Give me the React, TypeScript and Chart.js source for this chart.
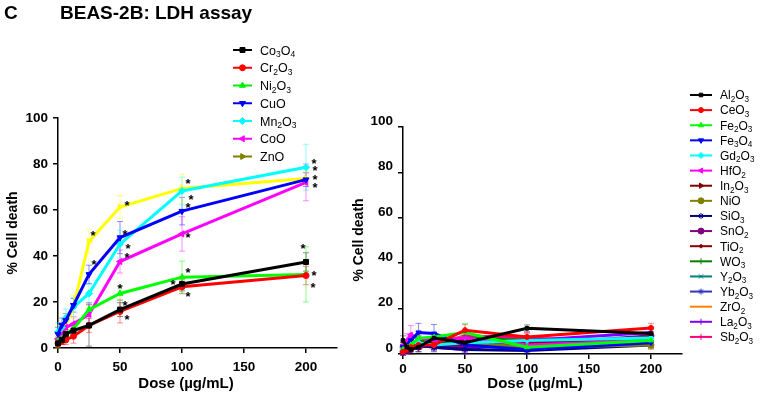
import React, { useEffect, useRef } from 'react';
import { Chart, registerables } from 'chart.js';
import { drawPoint } from 'chart.js/helpers';

Chart.register(...registerables);

const FONT = '"Liberation Sans", Arial, Helvetica, sans-serif';

// ---------------- data ----------------
const panelLabel = 'C';
const chartTitle = 'BEAS-2B: LDH assay';
const yAxisTitle = '% Cell death';
const xAxisTitle = 'Dose (µg/mL)';
const doses = [0, 3.125, 6.25, 12.5, 25, 50, 100, 200];
const xTickValues = [0, 50, 100, 150, 200];
const yTickValues = [0, 20, 40, 60, 80, 100];

// left panel
const leftNames = ['Co3O4', 'Cr2O3', 'Ni2O3', 'CuO', 'Mn2O3', 'CoO', 'ZnO'];
const co3o4 = [2, 3.5, 6, 7.6, 9.8, 16.7, 27.8, 37.4];
const cr2o3 = [2, 3, 3.5, 5.1, 9.8, 15.9, 26.6, 31.5];
const ni2o3 = [3, 4, 6, 8.3, 16.7, 23.7, 30.8, 32];
const cuo = [6, 10, 12, 18.6, 32, 48, 59.5, 73.2];
const mn2o3 = [7, 9, 13, 17.8, 23.7, 45.2, 68.3, 78.6];
const coo = [4, 6, 9, 10.5, 14.6, 37.6, 49.6, 72];
const zno = [5, 8, 10, 17.8, 46.3, 61.3, 69.4, 73.7];

const co3o4Err = [2, 2, 2, 2, 9, 3, 3, 4];
const cr2o3Err = [1.5, 1.5, 2, 3, 3, 5, 3, 4];
const ni2o3Err = [2, 2, 2, 2, 3, 3, 7, 12];
const cuoErr = [3, 3, 3, 3, 4, 7, 6, 3];
const mn2o3Err = [4, 4, 4, 4, 4, 6, 6, 10];
const cooErr = [3, 3, 3, 3, 5, 5, 7.5, 8];
const znoErr = [5, 5, 5, 5, 5, 5, 6, 3];

const co3o4Star = [0, 0, 0, 0, 0, 1, 1, 1];
const cr2o3Star = [0, 0, 0, 0, 0, 1, 1, 1];
const ni2o3Star = [0, 0, 0, 0, 0, 1, 1, 1];
const cuoStar = [0, 0, 0, 0, 1, 1, 1, 1];
const mn2o3Star = [0, 0, 0, 0, 0, 1, 1, 1];
const cooStar = [0, 0, 0, 0, 0, 1, 1, 1];
const znoStar = [0, 0, 0, 0, 1, 1, 1, 1];

// right panel
const rightNames = ['Al2O3', 'CeO3', 'Fe2O3', 'Fe3O4', 'Gd2O3', 'HfO2', 'In2O3', 'NiO', 'SiO3',
  'SnO2', 'TiO2', 'WO3', 'Y2O3', 'Yb2O3', 'ZrO2', 'La2O3', 'Sb2O3'];
const al2o3 = [6, 3, 2, 3, 7, 5, 11.3, 9];
const ceo3 = [1, 2, 3, 4, 4, 10.5, 7.5, 11.5];
const fe2o3 = [2, 3, 4, 7, 7.5, 9.5, 3, 6];
const fe3o4 = [3, 4, 6, 9.5, 9, 4, 2, 5];
const gd2o3 = [2, 3, 5, 5, 4, 5, 6, 7];
const hfo2 = [4, 6, 8.5, 7, 6, 7, 4, 6];
const in2o3 = [1, 2, 3, 4, 5, 6, 5, 7];
const nio = [3, 4, 5, 4, 6, 5, 3, 4];
const sio3 = [2, 3, 3, 4, 3, 2, 1.5, 4];
const sno2 = [1, 2, 2, 3, 4, 3, 4, 8];
const tio2 = [2, 2, 4, 5, 4, 4, 3, 5];
const wo3 = [3, 4, 5, 6, 5, 7, 6, 6.5];
const y2o3 = [2, 3, 4, 5, 3, 4, 5, 6];
const yb2o3 = [1, 2, 3, 3, 4, 5, 5, 7];
const zro2 = [2, 3, 5, 6, 7, 7, 3.5, 4.5];
const la2o3 = [1, 2, 4, 4, 3, 2, 6, 9.5];
const sb2o3 = [2, 3, 4, 5, 4, 8, 7, 5];

const al2o3Err = [2, 2, 2, 2, 2, 2, 1.5, 2];
const ceo3Err = [1.5, 1.5, 2, 2, 2, 2.5, 2, 2];
const fe2o3Err = [2, 2, 2, 2, 2, 4, 2, 2];
const fe3o4Err = [2, 2, 2, 4, 4, 2, 2, 2];
const gd2o3Err = [2, 2, 2, 2, 2, 2, 2, 2];
const hfo2Err = [2, 3, 4, 2, 2, 2, 2, 2];
const in2o3Err = [1.5, 1.5, 1.5, 1.5, 2, 2, 2, 2];
const nioErr = [2, 2, 2, 2, 2, 2, 2, 2];
const sio3Err = [1.5, 1.5, 1.5, 1.5, 1.5, 1.5, 1.5, 1.5];
const sno2Err = [1.5, 1.5, 1.5, 2, 2, 2, 2, 2];
const tio2Err = [1.5, 1.5, 2, 2, 2, 2, 2, 2];
const wo3Err = [2, 2, 2, 2, 2, 2, 2, 2];
const y2o3Err = [1.5, 1.5, 2, 2, 2, 2, 2, 2];
const yb2o3Err = [1.5, 1.5, 1.5, 2, 2, 2, 2, 2];
const zro2Err = [1.5, 1.5, 2, 2, 2, 2, 2, 2];
const la2o3Err = [1.5, 1.5, 2, 2, 2, 2, 2, 2];
const sb2o3Err = [1.5, 1.5, 2, 2, 2, 2, 2, 2];

// ---------------- styles ----------------
const leftSeries = [
  { values: co3o4, err: co3o4Err, star: co3o4Star, color: '#000000', legend: '#000000', style: 'rect', rot: 0, r: 3.5 },
  { values: cr2o3, err: cr2o3Err, star: cr2o3Star, color: '#ff0000', legend: '#ff0000', style: 'circle', rot: 0, r: 3 },
  { values: ni2o3, err: ni2o3Err, star: ni2o3Star, color: '#00ff00', legend: '#00ee00', style: 'triangle', rot: 0, r: 3.5 },
  { values: cuo, err: cuoErr, star: cuoStar, color: '#0000ff', legend: '#0000ff', style: 'triangle', rot: 180, r: 3.5 },
  { values: mn2o3, err: mn2o3Err, star: mn2o3Star, color: '#00ffff', legend: '#00ffff', style: 'rectRot', rot: 0, r: 3.5 },
  { values: coo, err: cooErr, star: cooStar, color: '#ff00ff', legend: '#ff00ff', style: 'triangle', rot: -90, r: 3.5 },
  { values: zno, err: znoErr, star: znoStar, color: '#ffff00', legend: '#808000', style: 'triangle', rot: 90, r: 3.5 },
];

// star label offsets (px) relative to the marker, per series / dose index
const leftStarOffsets: Record<number, [number, number]>[] = [
  { 5: [5, -7], 6: [-9, -2], 7: [-3, -16] },
  { 5: [7, 6], 6: [6, 7], 7: [7, 9] },
  { 5: [0, -7], 6: [6, -7], 7: [8, -1] },
  { 4: [5, -12], 5: [5, -6], 6: [6, -6], 7: [9, -3] },
  { 5: [8, 2], 6: [9, 6], 7: [8, -6] },
  { 5: [7, -7], 6: [6, 1], 7: [9, 3] },
  { 4: [4, -9], 5: [7, -4], 6: [6, -7], 7: [9, -10] },
];

const rightSeries = [
  { values: al2o3, err: al2o3Err, color: '#000000', style: 'rect', rot: 0, r: 2.5 },
  { values: ceo3, err: ceo3Err, color: '#ff0000', style: 'circle', rot: 0, r: 2.5 },
  { values: fe2o3, err: fe2o3Err, color: '#00ff00', style: 'triangle', rot: 0, r: 3 },
  { values: fe3o4, err: fe3o4Err, color: '#0000ff', style: 'triangle', rot: 180, r: 3 },
  { values: gd2o3, err: gd2o3Err, color: '#00ffff', style: 'rectRot', rot: 0, r: 3 },
  { values: hfo2, err: hfo2Err, color: '#ff00ff', style: 'triangle', rot: -90, r: 3 },
  { values: in2o3, err: in2o3Err, color: '#800000', style: 'triangle', rot: 90, r: 3 },
  { values: nio, err: nioErr, color: '#808000', style: 'circle', rot: 0, r: 3 },
  { values: sio3, err: sio3Err, color: '#000080', style: 'star', rot: 0, r: 3 },
  { values: sno2, err: sno2Err, color: '#800080', style: 'circle', rot: 0, r: 3 },
  { values: tio2, err: tio2Err, color: '#8b0000', style: 'rectRot', rot: 0, r: 2 },
  { values: wo3, err: wo3Err, color: '#008000', style: 'line', rot: 90, r: 3 },
  { values: y2o3, err: y2o3Err, color: '#008080', style: 'crossRot', rot: 0, r: 3 },
  { values: yb2o3, err: yb2o3Err, color: '#3333bb', style: 'star', rot: 0, r: 3 },
  { values: zro2, err: zro2Err, color: '#ff8000', style: false, rot: 0, r: 0 },
  { values: la2o3, err: la2o3Err, color: '#8000ff', style: 'line', rot: 90, r: 3 },
  { values: sb2o3, err: sb2o3Err, color: '#ff0080', style: 'line', rot: 90, r: 3 },
];

// ---------------- helpers ----------------
function rgba(hex: string, a: number) {
  const n = parseInt(hex.slice(1), 16);
  return `rgba(${(n >> 16) & 255},${(n >> 8) & 255},${n & 255},${a})`;
}

function drawChem(ctx: CanvasRenderingContext2D, text: string, x: number, cy: number, size: number) {
  const base = cy + size * 0.36;
  let cx = x;
  const parts = text.match(/\d+|\D+/g) || [];
  ctx.textAlign = 'left';
  ctx.textBaseline = 'alphabetic';
  for (const p of parts) {
    if (/\d/.test(p)) {
      ctx.font = `${size * 0.68}px ${FONT}`;
      ctx.fillText(p, cx, base + size * 0.22);
    } else {
      ctx.font = `${size}px ${FONT}`;
      ctx.fillText(p, cx, base);
    }
    cx += ctx.measureText(p).width;
  }
}

type LegendCfg = {
  items: { name: string; color: string; style: any; rot: number; r: number }[];
  x0: number; y0: number; dy: number; len: number; size: number; gap: number;
};

type DecorCfg = {
  id: string;
  series: { err: number[]; color: string; star?: number[] }[];
  starOffsets?: Record<number, [number, number]>[];
  legend: LegendCfg;
  yTitle: [number, number];
  xTitle: [number, number];
  header?: boolean;
};

function makeDecor(cfg: DecorCfg) {
  return {
    id: 'decor_' + cfg.id,
    beforeDatasetsDraw(chart: any) {
      const ctx = chart.ctx as CanvasRenderingContext2D;
      const ys = chart.scales.y;
      ctx.save();
      cfg.series.forEach((s, i) => {
        const meta = chart.getDatasetMeta(i);
        ctx.strokeStyle = rgba(s.color, 0.45);
        ctx.lineWidth = 1;
        meta.data.forEach((pt: any, j: number) => {
          const v = chart.data.datasets[i].data[j].y;
          const e = s.err[j];
          if (!e) return;
          const x = pt.x;
          const yt = ys.getPixelForValue(v + e);
          const yb = ys.getPixelForValue(v - e);
          ctx.beginPath();
          ctx.moveTo(x, yt); ctx.lineTo(x, yb);
          ctx.moveTo(x - 3, yt); ctx.lineTo(x + 3, yt);
          ctx.moveTo(x - 3, yb); ctx.lineTo(x + 3, yb);
          ctx.stroke();
        });
      });
      ctx.restore();
    },
    afterDatasetsDraw(chart: any) {
      const ctx = chart.ctx as CanvasRenderingContext2D;
      ctx.save();
      ctx.fillStyle = '#000';
      ctx.font = `bold 13px ${FONT}`;
      ctx.textAlign = 'center';
      ctx.textBaseline = 'alphabetic';
      cfg.series.forEach((s, i) => {
        if (!s.star) return;
        const meta = chart.getDatasetMeta(i);
        s.star.forEach((f, j) => {
          if (!f) return;
          const pt = meta.data[j];
          const off = (cfg.starOffsets && cfg.starOffsets[i][j]) || [7, -5];
          ctx.fillText('*', pt.x + off[0], pt.y + off[1] + 7);
        });
      });
      ctx.restore();
    },
    afterDraw(chart: any) {
      const ctx = chart.ctx as CanvasRenderingContext2D;
      ctx.save();
      // legend
      const L = cfg.legend;
      L.items.forEach((it, i) => {
        const y = L.y0 + i * L.dy;
        ctx.strokeStyle = it.color;
        ctx.fillStyle = it.color;
        ctx.lineWidth = 2;
        ctx.beginPath();
        ctx.moveTo(L.x0, y); ctx.lineTo(L.x0 + L.len, y);
        ctx.stroke();
        if (it.style) {
          ctx.lineWidth = 1;
          drawPoint(ctx, { pointStyle: it.style, rotation: it.rot, radius: it.r, borderWidth: 1 } as any, L.x0 + L.len / 2, y);
        }
        ctx.fillStyle = '#000';
        drawChem(ctx, it.name, L.x0 + L.len + L.gap, y, L.size);
      });
      // axis titles
      ctx.fillStyle = '#000';
      ctx.font = `bold 15px ${FONT}`;
      ctx.textAlign = 'center';
      ctx.textBaseline = 'middle';
      ctx.fillText(xAxisTitle, cfg.xTitle[0], cfg.xTitle[1]);
      ctx.save();
      ctx.translate(cfg.yTitle[0], cfg.yTitle[1]);
      ctx.rotate(-Math.PI / 2);
      ctx.font = `bold 14px ${FONT}`;
      ctx.fillText(yAxisTitle, 0, 0);
      ctx.restore();
      if (cfg.header) {
        ctx.font = `bold 19px ${FONT}`;
        ctx.textAlign = 'left';
        ctx.textBaseline = 'alphabetic';
        ctx.fillText(panelLabel, 4, 19);
        ctx.fillText(chartTitle, 60, 19);
      }
      ctx.restore();
    },
  };
}

function axisScales(yW: number, xH: number, yLabelOffset: number, xPad: number) {
  const tickFont = { family: FONT, size: 13.5, weight: 'bold' as const };
  return {
    x: {
      type: 'linear' as const,
      min: 0,
      max: 225,
      afterBuildTicks: (s: any) => { s.ticks = xTickValues.map((v) => ({ value: v })); },
      afterFit: (s: any) => { s.height = xH; },
      ticks: { color: '#000', font: tickFont, padding: xPad, maxRotation: 0 },
      grid: { display: true, drawOnChartArea: false, drawTicks: true, tickLength: 5, color: '#000', lineWidth: 1.5 },
      border: { display: true, color: '#000', width: 1.5 },
    },
    y: {
      type: 'linear' as const,
      min: 0,
      max: 100,
      afterBuildTicks: (s: any) => { s.ticks = yTickValues.map((v) => ({ value: v })); },
      afterFit: (s: any) => { s.width = yW; },
      ticks: { color: '#000', font: tickFont, padding: 5, labelOffset: yLabelOffset },
      grid: { display: true, drawOnChartArea: false, drawTicks: true, tickLength: 5, color: '#000', lineWidth: 1.5 },
      border: { display: true, color: '#000', width: 1.5 },
    },
  };
}

function LeftPanel() {
  const ref = useRef<HTMLCanvasElement>(null);
  useEffect(() => {
    if (!ref.current) return;
    const datasets = leftSeries.map((s, i) => ({
      label: leftNames[i],
      data: doses.map((d, j) => ({ x: d, y: s.values[j] })),
      borderColor: s.color,
      backgroundColor: s.color,
      borderWidth: 3,
      pointStyle: s.style as any,
      pointRotation: s.rot,
      pointRadius: s.r,
      pointBorderWidth: 1,
      tension: 0,
      clip: false as any,
    }));
    const chart = new Chart(ref.current, {
      type: 'line',
      data: { datasets },
      options: {
        animation: false,
        responsive: false,
        maintainAspectRatio: false,
        layout: { padding: { top: 118, right: 8, bottom: 0, left: 0 } },
        plugins: { legend: { display: false }, tooltip: { enabled: false } },
        scales: axisScales(58, 50, 0, 6) as any,
      },
      plugins: [makeDecor({
        id: 'left',
        series: leftSeries,
        starOffsets: leftStarOffsets,
        legend: {
          items: leftSeries.map((s, i) => ({ name: leftNames[i], color: s.legend, style: s.style, rot: s.rot, r: s.r })),
          x0: 233, y0: 50, dy: 17.75, len: 19, size: 12.5, gap: 8,
        },
        yTitle: [13, 233],
        xTitle: [186, 384],
        header: true,
      })],
    });
    return () => chart.destroy();
  }, []);
  return <canvas ref={ref} width={345} height={398} style={{ position: 'absolute', left: 0, top: 0, display: 'block' }} />;
}

function RightPanel() {
  const ref = useRef<HTMLCanvasElement>(null);
  useEffect(() => {
    if (!ref.current) return;
    const datasets = rightSeries.map((s, i) => ({
      label: rightNames[i],
      data: doses.map((d, j) => ({ x: d, y: s.values[j] })),
      borderColor: s.color,
      backgroundColor: s.color,
      borderWidth: 3,
      pointStyle: s.style as any,
      pointRotation: s.rot,
      pointRadius: s.r,
      pointBorderWidth: 1,
      tension: 0,
      clip: false as any,
    }));
    const chart = new Chart(ref.current, {
      type: 'line',
      data: { datasets },
      options: {
        animation: false,
        responsive: false,
        maintainAspectRatio: false,
        layout: { padding: { top: 127, right: 80, bottom: 0, left: 0 } },
        plugins: { legend: { display: false }, tooltip: { enabled: false } },
        scales: axisScales(58, 44, -6, 2) as any,
      },
      plugins: [makeDecor({
        id: 'right',
        series: rightSeries,
        legend: {
          items: rightSeries.map((s, i) => ({ name: rightNames[i], color: s.color, style: s.style, rot: s.rot, r: s.r })),
          x0: 345, y0: 95, dy: 15.12, len: 22, size: 12, gap: 8,
        },
        yTitle: [14, 240],
        xTitle: [190, 384],
      })],
    });
    return () => chart.destroy();
  }, []);
  return <canvas ref={ref} width={417} height={398} style={{ position: 'absolute', left: 345, top: 0, display: 'block' }} />;
}

export default function App() {
  return (
    <div style={{ position: 'absolute', left: 0, top: 0, width: 762, height: 398, background: '#ffffff', overflow: 'hidden' }}>
      <LeftPanel />
      <RightPanel />
    </div>
  );
}
